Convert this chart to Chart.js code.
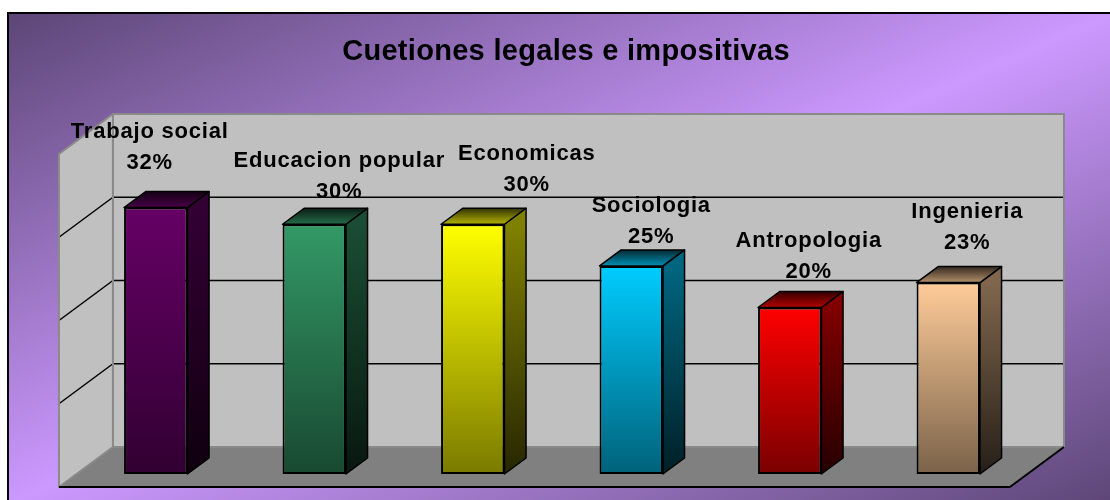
<!DOCTYPE html>
<html>
<head>
<meta charset="utf-8">
<title>Cuetiones legales e impositivas</title>
<script src="https://cdn.jsdelivr.net/npm/chart.js@4.4.1/dist/chart.umd.min.js"></script>
<style>
  html, body { margin: 0; padding: 0; background: #fff; }
  #wrap { width: 1110px; height: 500px; }
</style>
</head>
<body>
<div id="wrap"><canvas id="chart" width="1110" height="500"></canvas></div>
<script>
// data
const categories = ["Trabajo social", "Educacion popular", "Economicas", "Sociologia", "Antropologia", "Ingenieria"];
const values = [32, 30, 30, 25, 20, 23];
const gridValues = [10, 20, 30];
const axisMax = 40;
const chartTitle = "Cuetiones legales e impositivas";

// look
const barColors = ["#660066", "#339966", "#ffff00", "#00ccff", "#ff0000", "#ffcc99"];
const depth = { dx: 54, dy: -40 };  // full floor depth (oblique projection)
const barFront = 0.325;             // bar front plane, as share of depth
const barDepth = 0.4;               // bar thickness, as share of depth
const labelFont = 'bold 22px "Liberation Sans", Arial, sans-serif';
const labelShift = { x: 20, y: -36, line: 31 };
// the labels were moved by hand in the original
const labelNudge = [[-26, -9], [5, 4], [34, -3], [0, 7], [-1, 0], [-1, -4]];

function shade(hex, f) {
  const n = parseInt(hex.slice(1), 16);
  const r = Math.round(((n >> 16) & 255) * f);
  const g = Math.round(((n >> 8) & 255) * f);
  const b = Math.round((n & 255) * f);
  return "rgb(" + r + "," + g + "," + b + ")";
}

function poly(ctx, pts, fill, stroke, lw) {
  ctx.beginPath();
  ctx.moveTo(pts[0][0], pts[0][1]);
  for (let i = 1; i < pts.length; i++) ctx.lineTo(pts[i][0], pts[i][1]);
  ctx.closePath();
  if (fill) { ctx.fillStyle = fill; ctx.fill(); }
  if (stroke) { ctx.lineWidth = lw || 1; ctx.strokeStyle = stroke; ctx.stroke(); }
}

function line(ctx, x1, y1, x2, y2, color, lw) {
  ctx.beginPath();
  ctx.moveTo(x1, y1);
  ctx.lineTo(x2, y2);
  ctx.lineWidth = lw;
  ctx.strokeStyle = color;
  ctx.stroke();
}

const backdrop = {
  id: "backdrop",
  beforeDraw(chart) {
    const ctx = chart.ctx;
    const W = chart.width, H = chart.height;
    ctx.save();
    ctx.fillStyle = "#fff";
    ctx.fillRect(0, 0, W, H);
    const x0 = 8, y0 = 13, w = W - x0 + 4, h = H - y0 + 4;
    // diagonal gradient, light band along the anti-diagonal
    const k = 2 * w * h / (w * w + h * h);
    const g = ctx.createLinearGradient(x0, y0, x0 + h * k, y0 + w * k);
    g.addColorStop(0, "#5c4676");
    g.addColorStop(0.5, "#cc99ff");
    g.addColorStop(1, "#5c4676");
    ctx.fillStyle = g;
    ctx.fillRect(x0, y0, w, h);
    ctx.lineWidth = 2;
    ctx.strokeStyle = "#000";
    ctx.strokeRect(x0, y0, w, h);

    ctx.fillStyle = "#000";
    ctx.font = 'bold 29px "Liberation Sans", Arial, sans-serif';
    ctx.letterSpacing = "0.3px";
    ctx.textAlign = "center";
    ctx.textBaseline = "middle";
    ctx.fillText(chartTitle, 566, 52);
    ctx.restore();
  }
};

const walls = {
  id: "walls",
  beforeDatasetsDraw(chart) {
    const ctx = chart.ctx;
    const a = chart.chartArea;
    const y = chart.scales.y;
    const bx = (1 - barFront) * depth.dx, by = (1 - barFront) * depth.dy;
    const fx = -barFront * depth.dx, fy = -barFront * depth.dy;
    const base = y.getPixelForValue(0), top = y.getPixelForValue(axisMax);
    const L = a.left + bx, R = a.right + bx, T = top + by, B = base + by;
    const sl = a.left + fx, sr = a.right + fx;

    ctx.save();
    // back wall
    poly(ctx, [[L, T], [R, T], [R, B], [L, B]], "#c0c0c0");
    // side wall
    poly(ctx, [[sl, top + fy], [L, T], [L, B], [sl, base + fy]], "#c0c0c0");
    // floor
    poly(ctx, [[sl, base + fy], [sr, base + fy], [R, B], [L, B]], "#808080");

    gridValues.forEach(v => {
      const gy = y.getPixelForValue(v) + by;
      line(ctx, L, gy, R, gy, "#000", 1.5);
      line(ctx, L, gy, sl, gy - depth.dy, "#000", 1.5);
    });

    // wall edges
    ctx.lineJoin = "round";
    poly(ctx, [[L, T], [R, T], [R, B], [L, B]], null, "#8a8a8a", 2);
    poly(ctx, [[sl, top + fy], [L, T], [L, B], [sl, base + fy]], null, "#8a8a8a", 2);
    line(ctx, sl, base + fy, sr, base + fy, "#000", 2);
    line(ctx, sr, base + fy, R, B, "#000", 2);

    // side and top faces of the bars
    const ddx = barDepth * depth.dx, ddy = barDepth * depth.dy;
    chart.getDatasetMeta(0).data.forEach((bar, i) => {
      const p = bar.getProps(["x", "y", "base", "width"], true);
      const left = p.x - p.width / 2, right = p.x + p.width / 2;
      const col = barColors[i];

      const sg = ctx.createLinearGradient(0, p.y, 0, p.base);
      sg.addColorStop(0, shade(col, 0.5));
      sg.addColorStop(1, shade(col, 0.15));
      poly(ctx, [[right, p.y], [right + ddx, p.y + ddy], [right + ddx, p.base + ddy], [right, p.base]], sg, "#000", 1.5);

      const tg = ctx.createLinearGradient(0, p.y + ddy, 0, p.y);
      tg.addColorStop(0, shade(col, 0.2));
      tg.addColorStop(1, shade(col, 0.7));
      poly(ctx, [[left, p.y], [right, p.y], [right + ddx, p.y + ddy], [left + ddx, p.y + ddy]], tg, "#000", 1.5);
    });
    ctx.restore();
  }
};

const barLabels = {
  id: "barLabels",
  afterDatasetsDraw(chart) {
    const ctx = chart.ctx;
    ctx.save();
    ctx.font = labelFont;
    ctx.letterSpacing = "0.8px";
    ctx.fillStyle = "#000";
    ctx.textAlign = "center";
    ctx.textBaseline = "middle";
    chart.getDatasetMeta(0).data.forEach((bar, i) => {
      const p = bar.getProps(["x", "y"], true);
      const x = p.x + labelShift.x + labelNudge[i][0];
      const yPct = p.y + labelShift.y + labelNudge[i][1];
      ctx.fillText(categories[i], x, yPct - labelShift.line);
      ctx.fillText(values[i] + "%", x, yPct);
    });
    ctx.restore();
  }
};

const ctx = document.getElementById("chart").getContext("2d");

new Chart(ctx, {
  type: "bar",
  data: {
    labels: categories,
    datasets: [{
      data: values,
      backgroundColor(c) {
        const chart = c.chart;
        const a = chart.chartArea;
        const i = c.dataIndex;
        if (!a || i === undefined) return barColors[0];
        const top = chart.scales.y.getPixelForValue(values[i]);
        const g = chart.ctx.createLinearGradient(0, top, 0, a.bottom);
        g.addColorStop(0, barColors[i]);
        g.addColorStop(1, shade(barColors[i], 0.48));
        return g;
      },
      borderColor: "#000",
      borderWidth: 2,
      borderSkipped: false,
      barPercentage: 0.4,
      categoryPercentage: 1
    }]
  },
  options: {
    responsive: false,
    animation: false,
    events: [],
    layout: {
      padding: { left: 76.5, right: 82.5, top: 141, bottom: 26 }
    },
    scales: {
      x: { display: false },
      y: { display: false, min: 0, max: axisMax }
    },
    plugins: {
      legend: { display: false },
      tooltip: { enabled: false },
      title: { display: false }
    }
  },
  plugins: [backdrop, walls, barLabels]
});
</script>
</body>
</html>
